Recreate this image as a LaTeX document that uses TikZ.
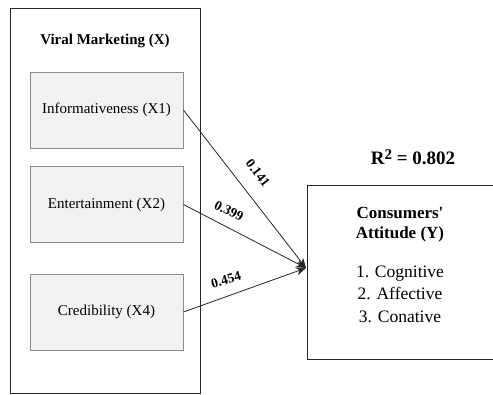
\documentclass[tikz,border=0pt]{standalone}
\usepackage{fontspec}
\setmainfont{Liberation Serif}
\usetikzlibrary{arrows.meta}
\definecolor{boxfill}{HTML}{F2F2F2}
\definecolor{boxline}{HTML}{8C8C8C}
\tikzset{
  outerbox/.style={draw=black!85, line width=0.9pt},
  itembox/.style={draw=boxline, fill=boxfill, line width=0.9pt, minimum width=153pt, minimum height=76pt, inner sep=0pt, font=\fontsize{15}{18}\selectfont},
  path/.style={draw=black!85, line width=0.8pt, -{Stealth[length=10pt,width=8pt]}},
  coef/.style={font=\bfseries\fontsize{13.5}{16}\selectfont, inner sep=1pt}
}
\begin{document}
\begin{tikzpicture}[x=1pt,y=-1pt]
\useasboundingbox (0,0) rectangle (493,394);
\fill[white] (0,0) rectangle (493,394);
\draw[outerbox] (10,8) rectangle (200,393);
\node[font=\bfseries\fontsize{15}{18}\selectfont] (title) at (105,41) {Viral Marketing (X)};
\node[itembox] (x1) at (106.5,110) {Informativeness (X1)};
\node[itembox] (x2) at (106.5,204.5) {Entertainment (X2)};
\node[itembox] (x4) at (106.5,312) {Credibility (X4)};
\node[draw=black!85, line width=0.9pt, minimum width=187pt, minimum height=174pt, inner sep=0pt, anchor=north west] (y) at (307,185) {};
\coordinate (tip) at (306,268);
\node[font=\bfseries\fontsize{19}{22}\selectfont] (r2) at (413,157) {R\raisebox{0.55ex}{\fontsize{15}{18}\selectfont 2} = 0.802};
\node[font=\bfseries\fontsize{17}{20}\selectfont, align=center] (yt) at (400,225) {Consumers\textquotesingle\\Attitude (Y)};
\node[font=\fontsize{17.5}{22.5}\selectfont, align=center] (yl) at (400,294) {1. Cognitive\\2. Affective\\3. Conative};
\draw[path] (x1.east) -- (tip);
\draw[path] (x2.east) -- (tip);
\draw[path] (x4.east) -- (tip);
\node[coef, rotate=-52] (c1) at (258,173) {0.141};
\node[coef, rotate=-26] (c2) at (229,211) {0.399};
\node[coef, rotate=16] (c4) at (226,280) {0.454};
\end{tikzpicture}
\end{document}
